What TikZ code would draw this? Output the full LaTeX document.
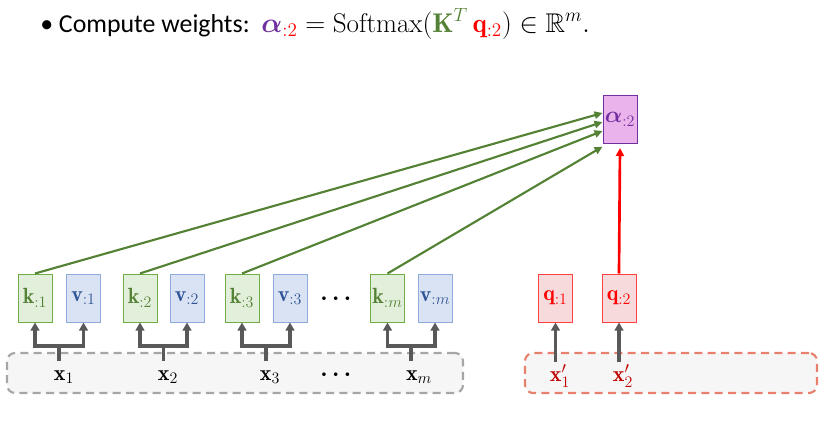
\documentclass[tikz,border=0pt]{standalone}
\usepackage{amsmath,amssymb,bm}
\usepackage{fontspec}
\newfontfamily\calibri{Carlito}
\usetikzlibrary{arrows.meta}
\definecolor{kgreen}{HTML}{548235}
\definecolor{kfill}{HTML}{E2EFDA}
\definecolor{kdraw}{HTML}{70AD47}
\definecolor{vblue}{HTML}{2F5597}
\definecolor{vfill}{HTML}{DAE3F3}
\definecolor{vdraw}{HTML}{8FAADC}
\definecolor{qred}{HTML}{FF0000}
\definecolor{qfill}{HTML}{F6DADC}
\definecolor{qdraw}{HTML}{FF4040}
\definecolor{apurple}{HTML}{7030A0}
\definecolor{afill}{HTML}{EBB3EB}
\definecolor{xred}{HTML}{C00000}
\definecolor{arrgray}{HTML}{595959}
\definecolor{dashgray}{HTML}{A6A6A6}
\definecolor{dashred}{HTML}{E8806E}
\definecolor{panel}{HTML}{F6F6F6}
\tikzset{
  cell/.style={minimum width=25.5pt,minimum height=36pt,inner sep=0pt,line width=0.75pt,font=\fontsize{16.5}{19}\selectfont},
  kbox/.style={cell,draw=kdraw,fill=kfill,text=kgreen},
  vbox/.style={cell,draw=vdraw,fill=vfill,text=vblue},
  qbox/.style={cell,draw=qdraw,fill=qfill,text=qred},
  abox/.style={cell,draw=apurple,fill=afill,text=apurple},
  panelbox/.style={rounded corners=6pt,line width=1.6pt,dash pattern=on 6pt off 4pt,fill=panel},
  grayarr/.style={draw=arrgray,line width=2.3pt,-{Triangle[length=6pt,width=6.5pt]}},
  graytwo/.style={draw=arrgray,line width=2.3pt,{Triangle[length=6pt,width=6.5pt]}-{Triangle[length=6pt,width=6.5pt]}},
  grayline/.style={draw=arrgray,line width=2.3pt},
  greenarr/.style={draw=kgreen,line width=1.6pt,-{Triangle[length=6pt,width=5.5pt]}},
  redarr/.style={draw=qred,line width=2pt,-{Triangle[length=6pt,width=6pt]}},
  xlab/.style={inner sep=0pt,font=\fontsize{16.5}{19}\selectfont},
  dotslab/.style={inner sep=0pt,font=\fontsize{16.5}{19}\selectfont}
}
\begin{document}
\begin{tikzpicture}[x=0.75pt,y=-0.75pt]
\useasboundingbox (0,0) rectangle (829,429);
% title
\node[anchor=base west,inner sep=0pt,font=\calibri\fontsize{19.4}{23}\selectfont] (title) at (40,32)
 {\textbullet\ Compute weights:};
\node[anchor=base west,inner sep=0pt,font=\fontsize{20.3}{24}\selectfont] (eq) at (261,32)
 {$\textcolor{apurple}{\bm{\alpha}}_{\textcolor{qred}{:2}} = \mathrm{Softmax}(\textcolor{kgreen}{\mathbf{K}^{T}}\,\textcolor{qred}{\mathbf{q}_{:2}}) \in \mathbb{R}^{m}.$};
% panels
\node[panelbox,draw=dashgray,minimum width=342pt,minimum height=30pt,inner sep=0pt] (pl) at (235,373) {};
\node[panelbox,draw=dashred,minimum width=219pt,minimum height=30pt,inner sep=0pt] (pr) at (671,373) {};
% boxes
\node[kbox] (k1) at (35,298) {$\mathbf{k}_{:1}$};
\node[vbox] (v1) at (83.5,298) {$\mathbf{v}_{:1}$};
\node[kbox] (k2) at (140,298) {$\mathbf{k}_{:2}$};
\node[vbox] (v2) at (187,298) {$\mathbf{v}_{:2}$};
\node[kbox] (k3) at (242,298) {$\mathbf{k}_{:3}$};
\node[vbox] (v3) at (290,298) {$\mathbf{v}_{:3}$};
\node[dotslab] (d1) at (338,299) {$\boldsymbol{\cdots}$};
\node[kbox] (km) at (387.5,298) {$\mathbf{k}_{:m}$};
\node[vbox] (vm) at (435,298) {$\mathbf{v}_{:m}$};
\node[qbox] (q1) at (555.5,298) {$\mathbf{q}_{:1}$};
\node[qbox] (q2) at (619,298) {$\mathbf{q}_{:2}$};
\node[abox] (a) at (620,119.5) {$\bm{\alpha}_{:2}$};
% x labels
\node[xlab] (x1) at (64,377) {$\mathbf{x}_1$};
\node[xlab] (x2) at (168,377) {$\mathbf{x}_2$};
\node[xlab] (x3) at (270,377) {$\mathbf{x}_3$};
\node[dotslab] (d2) at (338,375) {$\boldsymbol{\cdots}$};
\node[xlab] (xm) at (419,377) {$\mathbf{x}_m$};
\node[xlab,text=xred] (xp1) at (560,376) {$\mathbf{x}_1'$};
\node[xlab,text=xred] (xp2) at (623,376) {$\mathbf{x}_2'$};
% stems and junctions
\foreach \k/\v/\x/\n in {k1/v1/59/1,k2/v2/163.5/2,k3/v3/266/3,km/vm/411/m}{
  \coordinate (j\n) at (\x,346);
  \coordinate (s\n) at (\x,361);
  \draw[grayline] (s\n) -- (j\n);
  \draw[graytwo,line join=miter] (\k.south) |- (j\n) -| (\v.south);
}
\coordinate (sp1) at (555.5,362);
\coordinate (sp2) at (619,362);
\draw[grayarr] (sp1) -- (q1.south);
\draw[grayarr] (sp2) -- (q2.south);
% green arrows
\draw[greenarr] (k1.north) -- ([yshift=4.9pt]a.west);
\draw[greenarr] (k2.north) -- ([yshift=-1.9pt]a.west);
\draw[greenarr] (k3.north) -- ([yshift=-8.6pt]a.west);
\draw[greenarr] (km.north) -- ([yshift=-2pt]a.south west);
% red arrow
\draw[redarr] (q2.north) -- ([yshift=-3pt]a.south);
\end{tikzpicture}
\end{document}
